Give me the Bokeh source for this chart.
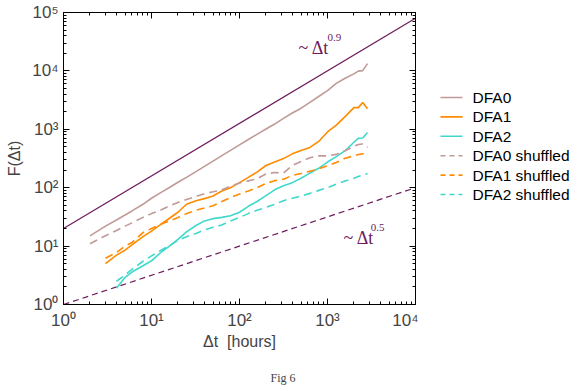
from bokeh.plotting import figure
from bokeh.layouts import row
from bokeh.models import (LogAxis, Label, FixedTicker, Range1d, Title)
from bokeh.core.properties import value
from bokeh.embed import file_html
from bokeh.resources import INLINE

# ---------------- data ----------------
t0 = [2, 3, 4, 5, 6, 8, 10, 13, 16, 20, 25, 32, 40, 50, 63, 79, 100, 126, 158, 200,
      251, 316, 398, 501, 631, 794, 1000, 1259, 1585, 1995, 2239, 2512, 2850]
dfa0 = [15, 22, 28, 34, 40, 52, 66, 84, 101, 124, 150, 188, 232, 285, 355, 435, 540,
        670, 820, 1010, 1230, 1540, 1900, 2300, 2900, 3650, 4600, 6100, 7500, 8900,
        9900, 10100, 13300]
dfa0_sh = [11, 15, 18.5, 22, 25, 31, 36, 42, 49, 56, 63, 71, 79, 85, 92, 106, 120,
           131, 142, 172, 182, 178, 240, 280, 325, 352, 350, 372, 430, 510, 548, 560, 490]

t1 = [3, 4, 5, 6, 8, 10, 13, 16, 20, 25, 32, 40, 50, 63, 79, 100, 126, 158, 200,
      251, 316, 398, 501, 631, 794, 1000, 1259, 1585, 1995, 2239, 2512, 2850]
dfa1 = [5.0, 7.0, 8.5, 10.5, 14.5, 18, 24, 30, 38, 52, 60, 65, 72, 88, 100, 122, 150,
        185, 240, 275, 315, 380, 435, 490, 620, 900, 1180, 1650, 2350, 2350, 2880, 2250]
dfa1_sh = [6.2, 7.8, 10, 11.5, 17, 20, 24, 27, 31, 36, 41, 45, 49, 58, 68, 78, 88,
           100, 118, 132, 140, 162, 175, 192, 210, 238, 270, 320, 350, 370, 380, 400]

t2 = [4, 5, 6, 8, 10, 13, 16, 20, 25, 32, 40, 50, 63, 79, 100, 126, 158, 200,
      251, 316, 398, 501, 631, 794, 1000, 1259, 1585, 1995, 2239, 2512, 2850]
dfa2 = [1.9, 2.9, 3.6, 4.6, 5.6, 8.0, 10, 13, 17.5, 22.5, 27, 29.5, 31, 33, 38, 48,
        58, 73, 92, 108, 122, 145, 178, 215, 275, 340, 430, 600, 700, 710, 880]
dfa2_sh = [2.5, 3.2, 4.0, 5.5, 6.8, 8.6, 10.2, 12.5, 14.5, 16.5, 19, 21, 23, 27, 31,
           36, 41, 46, 52, 60, 66, 72, 80, 90, 100, 115, 130, 145, 155, 165, 175]

series_labels = ["DFA0", "DFA1", "DFA2", "DFA0 shuffled", "DFA1 shuffled", "DFA2 shuffled"]

fit_t = [1, 10000]
fit_09 = [20, 20 * 10000 ** 0.9]
fit_05 = [1, 10000 ** 0.5]

tick_vals = [1, 10, 100, 1000, 10000, 100000]
tick_text = ["10\u2070", "10\u00b9", "10\u00b2", "10\u00b3", "10\u2074", "10\u2075"]
minor_vals = [m * 10 ** e for e in range(0, 5) for m in range(2, 10)]

C0 = "#c09a98"
C1 = "#ff8c00"
C2 = "#40d8cc"
CF = "#6e1a5c"
DASH = "8 5"
styles = [(C0, None), (C1, None), (C2, None), (C0, DASH), (C1, DASH), (C2, DASH)]

H = 386
p = figure(width=418, height=H, x_axis_type="log", y_axis_type="log",
           x_range=Range1d(1, 10000), y_range=Range1d(1, 100000),
           output_backend="svg", toolbar_location=None,
           frame_width=352, frame_height=292,
           min_border_left=63, min_border_top=12, min_border_right=3,
           min_border_bottom=82)
p.outline_line_color = "black"
p.grid.visible = False
p.background_fill_color = "white"

p.line(fit_t, fit_09, line_color=CF, line_width=1.2)
p.line(fit_t, fit_05, line_color=CF, line_width=1.2, line_dash="6 4")

for (tx, fy), (col, dash) in zip([(t0, dfa0), (t1, dfa1), (t2, dfa2),
                                  (t0, dfa0_sh), (t1, dfa1_sh), (t2, dfa2_sh)], styles):
    kw = dict(line_color=col, line_width=1.6)
    if dash:
        kw["line_dash"] = dash
    p.line(tx, fy, **kw)

for ax in [p.xaxis[0], p.yaxis[0]]:
    ax.ticker = FixedTicker(ticks=tick_vals, minor_ticks=minor_vals)
    ax.major_label_overrides = {v: s for v, s in zip(tick_vals, tick_text)}
    ax.major_tick_in = 6
    ax.major_tick_out = 0
    ax.minor_tick_in = 3
    ax.minor_tick_out = 0
    ax.axis_line_color = "black"
    ax.major_label_text_font = "Liberation Sans"
    ax.major_label_text_font_size = "17px"
    ax.axis_label_text_font = "Liberation Sans"
    ax.axis_label_text_font_size = "16px"
    ax.axis_label_text_font_style = "normal"

p.xaxis[0].axis_label = "\u0394t\u00a0\u00a0[hours]"
p.yaxis[0].axis_label = "F(\u0394t)"
p.xaxis[0].major_label_standoff = 6
p.yaxis[0].major_label_standoff = 5
p.yaxis[0].axis_label_standoff = 6
p.xaxis[0].axis_label_standoff = 0

for loc in ["right", "above"]:
    ax = LogAxis(ticker=FixedTicker(ticks=tick_vals, minor_ticks=minor_vals),
                 major_label_text_font_size="0px", major_label_text_color=None,
                 major_label_standoff=0,
                 major_tick_in=6, major_tick_out=0, minor_tick_in=3, minor_tick_out=0,
                 axis_line_color="black")
    p.add_layout(ax, loc)

# power-law annotations
p.add_layout(Label(x=468, y=25100, text="~ \u0394t", text_font="Liberation Serif",
                   text_font_size="18px", text_color=CF, text_baseline="alphabetic"))
p.add_layout(Label(x=1000, y=37400, text="0.9", text_font="Liberation Serif",
                   text_font_size="11px", text_color=CF, text_baseline="alphabetic"))
p.add_layout(Label(x=1520, y=14.0, text="~ \u0394t", text_font="Liberation Serif",
                   text_font_size="18px", text_color=CF, text_baseline="alphabetic"))
p.add_layout(Label(x=3100, y=20.9, text="0.5", text_font="Liberation Serif",
                   text_font_size="11px", text_color=CF, text_baseline="alphabetic"))

cap = Title(text="Fig 6", align="left", offset=207, text_font="Liberation Serif",
            text_font_size="12px", text_font_style="normal", standoff=32)
p.add_layout(cap, "below")

# legend panel: a separate blank figure to the right, in pixel-like coordinates
QW = 158
q = figure(width=QW, height=H, frame_width=QW, frame_height=H,
           x_range=Range1d(0, QW), y_range=Range1d(0, H),
           output_backend="svg", toolbar_location=None,
           x_axis_location=None, y_axis_location=None,
           min_border=0)
q.outline_line_color = None
q.grid.visible = False

row_top = 301.0
row_step = 19.4
sw_x0, sw_x1, lab_x = 22, 44, 54
lab_x_list, lab_y_list = [], []
for i, (lab, (col, dash)) in enumerate(zip(series_labels, styles)):
    yy = row_top - i * row_step
    kw = dict(line_color=col, line_width=1.6)
    if dash:
        kw["line_dash"] = "5 4"
    q.line([sw_x0, sw_x1], [yy, yy], **kw)
    lab_x_list.append(lab_x)
    lab_y_list.append(yy)

q.text(x=lab_x_list, y=lab_y_list, text=series_labels, text_font=value("Liberation Sans"),
       text_font_size="15.5px", text_baseline="middle", text_align="left", text_color="black")

open("out.html", "w").write(file_html(row(p, q), INLINE))
